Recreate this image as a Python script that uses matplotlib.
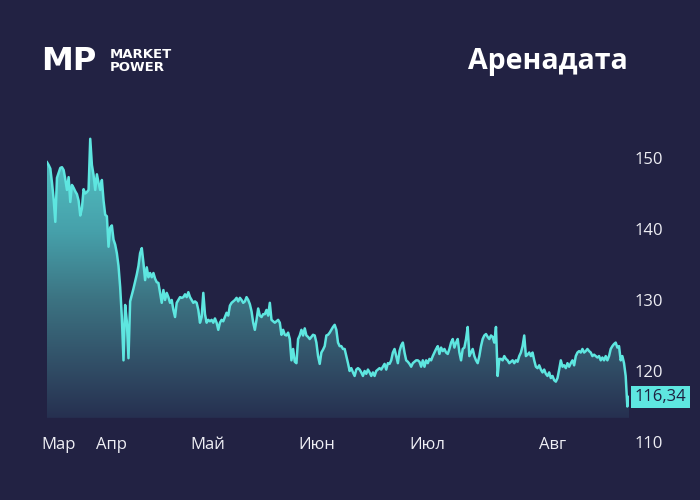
import numpy as np
import matplotlib
matplotlib.use('Agg')
import matplotlib.pyplot as plt
from matplotlib.colors import LinearSegmentedColormap

plt.rcParams['font.family'] = ['Open Sans', 'DejaVu Sans']

# ---- data ----
prices = [
    # early March -> early April
    149.4, 149.0, 148.5, 146.5, 144.2, 141.0, 147.2, 147.9, 148.6, 148.7,
    148.3, 147.0, 145.5, 147.3, 143.8, 146.2, 145.8, 145.3, 144.9, 144.0,
    141.9, 142.9, 145.6, 145.0, 145.2, 145.5, 152.7, 149.0, 147.6, 145.5,
    147.7, 146.5, 145.5, 146.9, 144.0, 142.0, 141.8, 137.5, 140.2, 140.5,
    138.5, 137.8, 136.6, 134.8, 131.8, 127.6, 121.5, 129.3, 127.0, 121.8,
    129.8, 130.7, 131.6, 132.6, 133.6, 134.8,
    # April
    136.6, 137.3, 135.2, 132.8, 134.6, 133.2, 133.8, 133.2, 133.8, 133.0,
    132.5, 132.4, 131.0, 129.6, 131.4, 130.0, 131.0, 130.4, 129.6, 130.0,
    128.6, 127.6, 129.6, 130.0, 130.4, 130.3, 130.4, 130.8, 130.4, 131.1,
    130.4, 130.0, 129.6, 129.8, 129.6, 128.6, 126.8, 127.6, 131.0, 128.0,
    126.8, 127.2, 127.0, 127.2, 126.8, 127.4, 126.8, 125.8, 126.8, 127.2,
    127.0, 127.6, 128.2, 127.8, 129.2, 129.6, 129.8,
    # May
    130.0, 130.3, 129.8, 130.3, 130.0, 129.6, 129.8, 130.4, 130.0, 129.4,
    128.4, 126.8, 125.8, 127.2, 128.8, 127.8, 127.6, 128.0, 128.0, 128.6,
    127.8, 129.6, 127.2, 127.0, 126.8, 127.0, 127.2, 126.8, 125.1, 125.8,
    125.1, 125.0, 125.4, 124.5, 121.5, 123.1, 121.3, 121.1, 124.5, 125.0,
    125.8, 125.0, 126.0, 125.0, 124.8, 124.5, 124.8, 125.1, 125.0, 124.0,
    122.1, 121.0, 122.6, 123.0, 123.5, 125.0, 125.1,
    # June
    125.4, 125.8, 126.2, 126.5, 125.8, 124.0, 123.5, 123.5, 123.1, 123.1,
    122.1, 121.1, 120.0, 120.4, 119.8, 119.3, 120.2, 120.4, 120.2, 119.8,
    119.3, 120.0, 119.6, 120.2, 119.8, 119.3, 119.8, 119.3, 120.0, 120.2,
    120.4, 120.2, 120.6, 121.0, 120.2, 121.1, 121.0, 121.5, 122.6, 123.1,
    122.1, 121.1, 122.8, 123.6, 124.0, 122.6, 121.5, 121.3, 121.0, 120.6,
    121.1, 121.3, 121.5, 121.5, 121.3, 120.6, 121.5,
    # July
    120.6, 121.5, 121.1, 121.7, 121.5, 122.1, 122.6, 123.1, 123.5, 122.4,
    123.3, 122.8, 123.1, 122.6, 122.4, 123.1, 124.0, 124.5, 123.3, 124.0,
    124.5, 122.6, 121.5, 123.1, 123.3, 124.5, 126.2, 122.1, 122.6, 123.1,
    122.1, 121.5, 121.1, 122.1, 123.5, 124.5, 125.0, 125.2, 124.8, 124.5,
    125.0, 124.8, 124.0, 126.2, 119.3, 121.7, 121.7, 121.5, 122.1, 121.7,
    121.5, 121.1, 121.3, 121.5, 121.1, 121.5, 121.3,
    # August
    122.1, 122.6, 123.5, 125.0, 122.1, 122.3, 122.6, 122.1, 122.6, 121.5,
    120.6, 120.4, 120.8, 120.2, 119.8, 120.2, 119.6, 119.3, 119.8, 119.0,
    119.3, 118.7, 118.5, 119.0, 120.2, 121.5, 120.6, 120.8, 120.4, 121.1,
    120.6, 121.1, 121.5, 120.8, 122.1, 122.6, 122.8, 122.6, 123.1, 122.6,
    122.8, 123.1, 122.8, 122.6, 122.1, 122.3, 122.1, 121.9, 122.1, 121.5,
    121.9, 121.5, 122.1, 121.5, 122.1, 123.1, 123.5, 123.8, 124.0, 123.3,
    123.5, 121.5, 122.1, 121.1, 119.3, 115.0, 116.34,
]
month_labels = ['Мар', 'Апр', 'Май', 'Июн', 'Июл', 'Авг']
month_pos = [7, 39, 97, 162, 229, 304]
y_ticks = [110, 120, 130, 140, 150]
last_label = '116,34'
title = 'Аренадата'

# ---- style ----
BG = '#222243'
LINE = '#5ee6e0'
TXT = '#eeeef4'
FILL_BASE = 113.4
Y_LIM = (108.59, 153.94)

fig = plt.figure(figsize=(7, 5), dpi=100, facecolor=BG)
ax = fig.add_axes([47 / 700, 48 / 500, 582 / 700, 322 / 500])
ax.set_facecolor(BG)

x = np.arange(len(prices))
y = np.array(prices)

poly = ax.fill_between(x, y, FILL_BASE, facecolor='none', edgecolor='none')
cmap = LinearSegmentedColormap.from_list(
    'g', [(0.0, '#263050'), (0.167, '#304b64'), (0.42, '#3c7382'),
          (0.66, '#46a0aa'), (1.0, '#55c8c8')])
grad = np.linspace(0, 1, 256).reshape(-1, 1)
im = ax.imshow(grad, aspect='auto', cmap=cmap, origin='lower',
               extent=[0, len(prices) - 1, FILL_BASE, 153], zorder=1,
               interpolation='bilinear')
im.set_clip_path(poly.get_paths()[0], transform=ax.transData)

ax.plot(x, y, color=LINE, lw=1.8, zorder=3, solid_joinstyle='round')

ax.set_xlim(0, len(prices) - 1)
ax.set_ylim(*Y_LIM)
for s in ax.spines.values():
    s.set_visible(False)
ax.set_xticks([])
ax.yaxis.tick_right()
ax.set_yticks(y_ticks)
ax.set_yticklabels([str(t) for t in y_ticks])
ax.tick_params(axis='y', length=0, pad=4, labelsize=12, labelcolor=TXT)

for p, lab in zip(month_pos, month_labels):
    ax.text(p, 109.58, lab, ha='center', va='center', fontsize=12, color=TXT)

ax.annotate(last_label, xy=(1.0, y[-1]), xycoords=('axes fraction', 'data'),
            xytext=(4, 0), textcoords='offset points', ha='left', va='center',
            fontsize=12, color='#1e2040',
            bbox=dict(boxstyle='square,pad=0.2', fc=LINE, ec='none'))

# header
fig.text(41 / 700, 1 - 61 / 500, 'MP', ha='left', va='center', fontsize=23,
         fontweight='bold', color='white', family='DejaVu Sans')
fig.text(110 / 700, 1 - 61 / 500, 'MARKET\nPOWER', ha='left', va='center',
         fontsize=9.5, fontweight='bold', color='white', linespacing=1.0,
         family='DejaVu Sans')
fig.text(628 / 700, 1 - 61 / 500, title, ha='right', va='center', fontsize=20.5,
         fontweight='bold', color='white')

fig.savefig('out.png', dpi=100, facecolor=BG)
